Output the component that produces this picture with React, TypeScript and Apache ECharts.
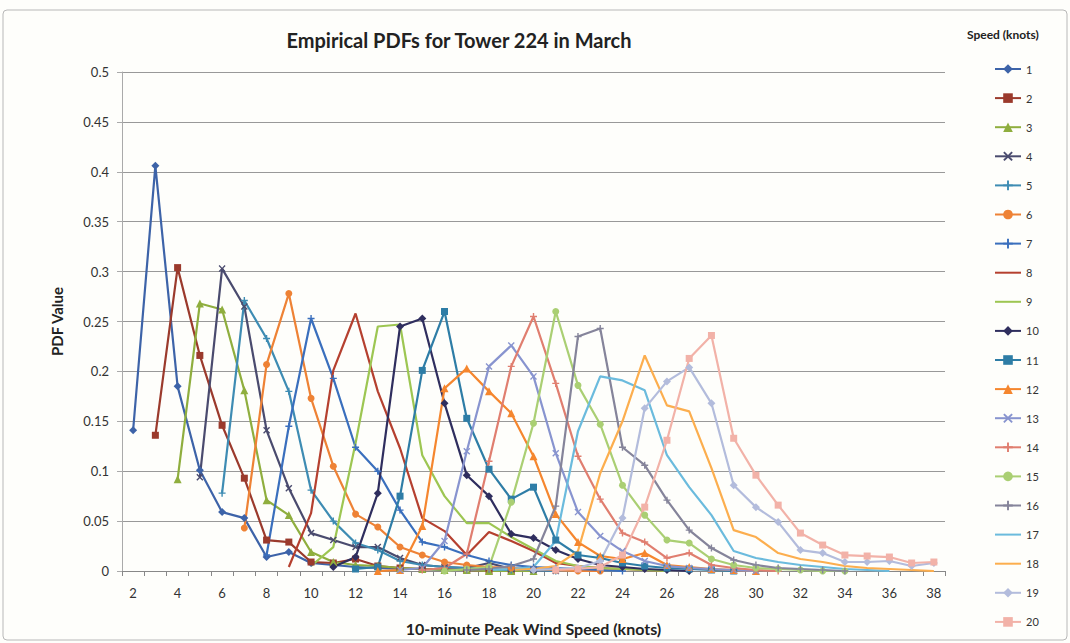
import React, { useEffect, useRef } from "react";
import * as echarts from "echarts";

const categories = [
  "2", "3", "4", "5", "6", "7", "8", "9", "10", "11", "12", "13", "14", "15", "16", "17", "18", "19", "20",
  "21", "22", "23", "24", "25", "26", "27", "28", "29", "30", "31", "32", "33", "34", "35", "36", "37", "38",
];

// each series: first category (knots) followed by its PDF values
const s1 = [2, 0.141, 0.406, 0.185, 0.101, 0.059, 0.053, 0.014, 0.019, 0.008, 0.006, 0.004, 0.003, 0.002, 0.002, 0.001, 0.001, 0.001, 0, 0];
const s2 = [3, 0.136, 0.304, 0.216, 0.146, 0.093, 0.031, 0.029, 0.009, 0.008, 0.012, 0.005, 0.003, 0.002, 0.002, 0.001, 0, 0];
const s3 = [4, 0.092, 0.268, 0.262, 0.181, 0.071, 0.056, 0.019, 0.009, 0.006, 0.005, 0.003, 0.002, 0.001, 0.001, 0, 0, 0];
const s4 = [5, 0.094, 0.303, 0.265, 0.141, 0.083, 0.038, 0.031, 0.024, 0.024, 0.013, 0.006, 0.004, 0.003, 0.008, 0.002, 0.001, 0];
const s5 = [6, 0.078, 0.271, 0.233, 0.18, 0.081, 0.05, 0.028, 0.021, 0.01, 0.006, 0.004, 0.003, 0.002, 0.001, 0.001, 0];
const s6 = [7, 0.043, 0.207, 0.278, 0.173, 0.105, 0.057, 0.044, 0.024, 0.016, 0.009, 0.006, 0.004, 0.003, 0.002, 0.001, 0, 0];
const s7 = [8, 0.016, 0.145, 0.253, 0.193, 0.124, 0.1, 0.061, 0.029, 0.024, 0.016, 0.01, 0.006, 0.004, 0.003, 0.002, 0.001, 0];
const s8 = [9, 0.004, 0.058, 0.201, 0.258, 0.18, 0.123, 0.053, 0.04, 0.016, 0.039, 0.03, 0.02, 0.008, 0.005, 0.003, 0.002, 0.001, 0];
const s9 = [10, 0.005, 0.024, 0.128, 0.245, 0.247, 0.116, 0.075, 0.048, 0.048, 0.034, 0.022, 0.01, 0.005, 0.003, 0.002, 0.001, 0];
const s10 = [11, 0.004, 0.014, 0.078, 0.245, 0.253, 0.168, 0.096, 0.075, 0.037, 0.033, 0.021, 0.012, 0.006, 0.004, 0.002, 0.001, 0];
const s11 = [12, 0.002, 0.004, 0.075, 0.201, 0.26, 0.153, 0.102, 0.072, 0.084, 0.031, 0.016, 0.013, 0.008, 0.005, 0.003, 0.002, 0.001, 0];
const s12 = [13, 0, 0.001, 0.045, 0.183, 0.203, 0.18, 0.158, 0.115, 0.057, 0.029, 0.015, 0.012, 0.018, 0.006, 0.004, 0.002, 0.001, 0];
const s13 = [14, 0.001, 0.003, 0.03, 0.12, 0.205, 0.226, 0.195, 0.118, 0.059, 0.035, 0.02, 0.01, 0.005, 0.003, 0.002, 0.001, 0];
const s14 = [15, 0.001, 0.003, 0.017, 0.11, 0.205, 0.255, 0.188, 0.115, 0.072, 0.038, 0.029, 0.013, 0.018, 0.006, 0.003, 0.001, 0];
const s15 = [16, 0, 0.002, 0.004, 0.069, 0.148, 0.26, 0.186, 0.147, 0.086, 0.056, 0.031, 0.028, 0.012, 0.006, 0.003, 0.002, 0.001, 0, 0];
const s16 = [17, 0.001, 0.002, 0.005, 0.012, 0.065, 0.235, 0.243, 0.124, 0.106, 0.071, 0.041, 0.023, 0.011, 0.006, 0.003, 0.002, 0.001, 0];
const s17 = [18, 0.001, 0.002, 0.004, 0.03, 0.14, 0.195, 0.191, 0.181, 0.116, 0.084, 0.056, 0.02, 0.013, 0.009, 0.006, 0.004, 0.002, 0.001, 0];
const s18 = [19, 0.001, 0.002, 0.005, 0.02, 0.098, 0.15, 0.216, 0.166, 0.16, 0.103, 0.041, 0.034, 0.018, 0.012, 0.009, 0.005, 0.003, 0.002, 0.001, 0];
const s19 = [20, 0.001, 0.002, 0.003, 0.01, 0.053, 0.163, 0.19, 0.204, 0.168, 0.086, 0.064, 0.049, 0.021, 0.018, 0.009, 0.009, 0.01, 0.005, 0.008];
const s20 = [21, 0.001, 0.002, 0.004, 0.016, 0.064, 0.131, 0.213, 0.236, 0.133, 0.096, 0.066, 0.038, 0.026, 0.016, 0.015, 0.014, 0.008, 0.009];

const seriesNames = ["1", "2", "3", "4", "5", "6", "7", "8", "9", "10", "11", "12", "13", "14", "15", "16", "17", "18", "19", "20"];
const allSeries = [s1, s2, s3, s4, s5, s6, s7, s8, s9, s10, s11, s12, s13, s14, s15, s16, s17, s18, s19, s20];

const PLUS = "path://M4,0H6V4H10V6H6V10H4V6H0V4H4Z";
const CROSS = "path://M1.4,0L5,3.6L8.6,0L10,1.4L6.4,5L10,8.6L8.6,10L5,6.4L1.4,10L0,8.6L3.6,5L0,1.4Z";
const LINE_ICON = "path://M0,0H13V1H0Z";

const colors = [
  "#3D63A8", "#9B3A2C", "#8FAE3E", "#4A4B6E", "#3E8CB3", "#EE8235", "#3A6FBD", "#B5402F", "#9DC652", "#2F2E5E",
  "#2E7DA6", "#F5862E", "#8894CF", "#E07E6F", "#AACF73", "#85849A", "#6BBBDD", "#FCAE4E", "#B3BCDC", "#F2B2A8",
];
const symbols = [
  "diamond", "rect", "triangle", CROSS, PLUS, "circle", PLUS, "none", "none", "diamond",
  "rect", "triangle", CROSS, PLUS, "circle", PLUS, "none", "none", "diamond", "rect",
];
const symbolSizes = [8, 7, 8, 7, 7, 7, 7, 0, 0, 8, 7, 8, 7, 7, 7, 7, 0, 0, 8, 7];

function place(s: number[]) {
  const start = s[0];
  const vals = s.slice(1);
  return categories.map((c) => {
    const i = Number(c) - start;
    return i >= 0 && i < vals.length ? vals[i] : null;
  });
}

const FONT = "Lato, 'Open Sans', sans-serif";

export default function App() {
  const ref = useRef<HTMLDivElement>(null);
  useEffect(() => {
    if (!ref.current) return;
    const chart = echarts.init(ref.current, null, { renderer: "svg" });
    chart.setOption({
      animation: false,
      backgroundColor: "#fefefb",
      color: colors,
      textStyle: { fontFamily: FONT },
      title: {
        text: "Empirical PDFs for Tower 224 in March",
        left: 454,
        top: 25,
        textAlign: "center",
        textStyle: { fontSize: 20, fontWeight: "bold", color: "#222", fontFamily: FONT },
      },
      graphic: [
        {
          type: "rect",
          shape: { x: 3, y: 10, width: 1064, height: 630, r: 4 },
          style: { fill: "none", stroke: "#b8b8b8", lineWidth: 1 },
          silent: true,
        },
        {
          type: "text",
          left: 967,
          top: 28,
          style: { text: "Speed (knots)", fontSize: 12, fontWeight: "bold", fill: "#222", fontFamily: FONT },
        },
      ],
      legend: {
        orient: "vertical",
        left: 989,
        top: 58,
        itemWidth: 26,
        itemHeight: 12,
        itemGap: 17.1,
        data: seriesNames.map((n, i) =>
          symbols[i] === "none" ? { name: n, icon: LINE_ICON } : { name: n }
        ),
        textStyle: { fontSize: 11, color: "#333", fontFamily: FONT, lineHeight: 12 },
      },
      grid: { left: 122, right: 125, top: 72, bottom: 72, containLabel: false },
      xAxis: {
        type: "category",
        data: categories,
        boundaryGap: true,
        name: "10-minute Peak Wind Speed (knots)",
        nameLocation: "middle",
        nameGap: 49,
        nameTextStyle: { fontSize: 16, fontWeight: "bold", color: "#222", fontFamily: FONT },
        axisLine: { lineStyle: { color: "#888", width: 1 } },
        axisTick: { show: true, interval: 0, length: 5, lineStyle: { color: "#888" } },
        axisLabel: { interval: 1, fontSize: 13, color: "#333", margin: 15, fontFamily: FONT },
        splitLine: { show: false },
      },
      yAxis: {
        type: "value",
        min: 0,
        max: 0.5,
        interval: 0.05,
        name: "PDF Value",
        nameLocation: "middle",
        nameGap: 58,
        nameTextStyle: { fontSize: 15, fontWeight: "bold", color: "#222", fontFamily: FONT },
        axisLine: { show: true, lineStyle: { color: "#aaa", width: 1 } },
        axisTick: { show: true, length: 5, lineStyle: { color: "#aaa" } },
        axisLabel: { fontSize: 13, color: "#333", margin: 13, fontFamily: FONT },
        splitLine: { show: true, lineStyle: { color: "#999", width: 1 } },
      },
      series: allSeries.map((s, i) => ({
        name: seriesNames[i],
        type: "line",
        data: place(s),
        symbol: symbols[i],
        symbolSize: symbolSizes[i],
        showSymbol: symbols[i] !== "none",
        connectNulls: false,
        lineStyle: { width: 2.2, color: colors[i] },
        itemStyle: { color: colors[i] },
      })),
    });
    return () => chart.dispose();
  }, []);
  return <div ref={ref} style={{ position: "fixed", left: 0, top: 0, width: 1070, height: 643 }} />;
}
